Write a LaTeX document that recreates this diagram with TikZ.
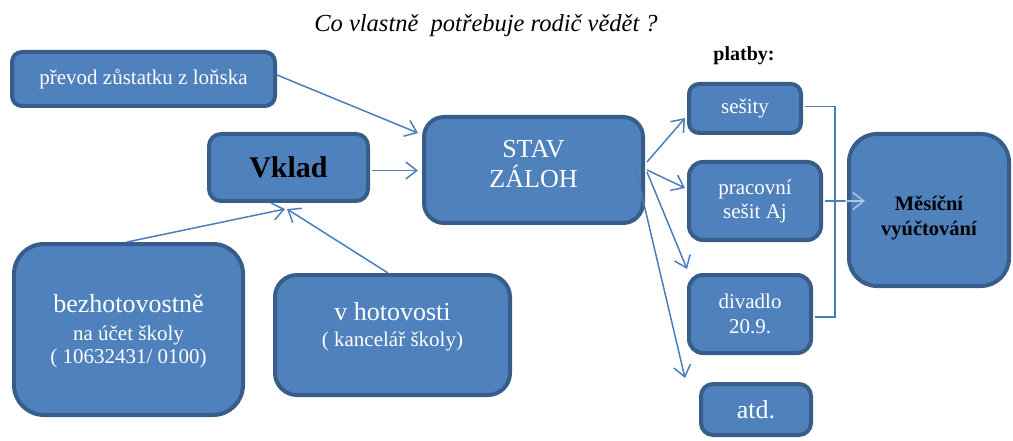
\documentclass[tikz,border=0pt]{standalone}
\usepackage{fontspec}
\setmainfont{Liberation Serif}
\usetikzlibrary{arrows.meta,calc}
\definecolor{boxfill}{HTML}{4F81BD}
\definecolor{boxline}{HTML}{385D8A}
\definecolor{conncol}{HTML}{4A7EBB}
\begin{document}
\begin{tikzpicture}[x=1pt,y=-1pt,
  box/.style={draw=boxline, line width=4pt, fill=boxfill, rounded corners=#1, text=white, align=center, inner sep=0pt},
  box/.default=12pt,
  conn/.style={draw=conncol, line width=1.5pt, -{Straight Barb[length=11pt,width=17pt,line width=1.5pt]}},
  plain/.style={draw=conncol, line width=1.5pt}]
\useasboundingbox (0,0) rectangle (1013,441);

\node[font=\itshape\fontsize{24.5}{28}\selectfont, anchor=base] (title) at (486,32) {Co vlastně~ potřebuje rodič vědět ?};
\node[font=\bfseries\fontsize{20}{24}\selectfont, anchor=base] (platby) at (744,61) {platby:};

\node[box=10pt, minimum width=263pt, minimum height=54pt, font=\fontsize{21}{24}\selectfont] (prevod) at (143.5,79) {převod zůstatku z loňska};
\node[box=12pt, minimum width=159pt, minimum height=67pt, text=black, font=\bfseries\fontsize{30}{34}\selectfont] (vklad) at (288.5,167.5) {Vklad};
\node[box=20pt, minimum width=219pt, minimum height=106pt, font=\fontsize{26}{30}\selectfont] (stav) at (533.5,170) {STAV\\ZÁLOH\\[-18pt]\mbox{}};
\node[box=10pt, minimum width=112pt, minimum height=49pt, font=\fontsize{21}{24}\selectfont] (sesity) at (745,108.5) {sešity};
\node[box=14pt, minimum width=132pt, minimum height=78pt, font=\fontsize{21}{24}\selectfont] (prac) at (755,201) {pracovní\\sešit Aj};
\node[box=14pt, minimum width=122pt, minimum height=78pt, font=\fontsize{21}{25}\selectfont] (divadlo) at (750,314) {divadlo\\20.9.};
\node[box=12pt, minimum width=110pt, minimum height=51pt, font=\fontsize{26}{30}\selectfont] (atd) at (756,409.5) {atd.};
\node[box=28pt, minimum width=160pt, minimum height=152pt, text=black, font=\bfseries\fontsize{20.5}{25}\selectfont] (mes) at (929,210) {\rule{0pt}{30pt}Měsíční\\vyúčtování};
\node[box=30pt, minimum width=229pt, minimum height=171pt, font=\fontsize{21}{23}\selectfont] (bez) at (128.5,329.5) {{\fontsize{26}{28}\selectfont \rule{0pt}{22pt}bezhotovostně}\\[5pt]na účet školy\\( 10632431/ 0100)};
\node[box=22pt, minimum width=235pt, minimum height=120pt, font=\fontsize{21}{26}\selectfont] (hot) at (392.5,335) {{\fontsize{26}{28}\selectfont v hotovosti}\\( kancelář školy)\\[-5pt]\mbox{}};

% connectors into STAV ZALOH
\draw[conn] ([yshift=4pt]prevod.east) -- ([xshift=-4pt,yshift=37pt]stav.west);
\draw[conn] ([xshift=2pt,yshift=-3pt]vklad.east) -- ([xshift=-4pt,yshift=-3pt]vklad.east -| stav.west);
% into Vklad
\draw[conn] ([xshift=-1.5pt]bez.north) -- ([xshift=-3.5pt,yshift=-6pt]vklad.south);
\draw[conn] ([xshift=-4.5pt]hot.north) -- ([xshift=-1.5pt,yshift=-6pt]vklad.south);
% out of STAV ZALOH
\draw[conn] ([xshift=2pt,yshift=8pt]stav.east) -- ([xshift=-2pt,yshift=-9.5pt]sesity.west);
\draw[conn] ([xshift=2pt]stav.east) -- ([xshift=-2pt,yshift=13pt]prac.west);
\draw[conn] ([xshift=2pt,yshift=-2pt]stav.east) -- ([xshift=0pt,yshift=4pt]divadlo.north west);
\draw[conn] ([xshift=-11pt,yshift=8pt]stav.east) -- ([xshift=-14pt,yshift=4pt]atd.north west);
% bracket to Mesicni vyuctovani
\coordinate (bar) at (835,0);
\draw[plain] ([xshift=2pt,yshift=2pt]sesity.east) -- ([yshift=2pt]sesity.east -| bar) -- ([yshift=-3pt]divadlo.east -| bar) -- ([xshift=2pt,yshift=-3pt]divadlo.east);
\draw[plain] ([xshift=2pt]prac.east) -- ([xshift=-2pt]prac.east -| mes.west);
\draw[conn, draw=conncol!45!white] ([xshift=-2pt]prac.east -| mes.west) -- ([xshift=18pt]prac.east -| mes.west);
\end{tikzpicture}
\end{document}
